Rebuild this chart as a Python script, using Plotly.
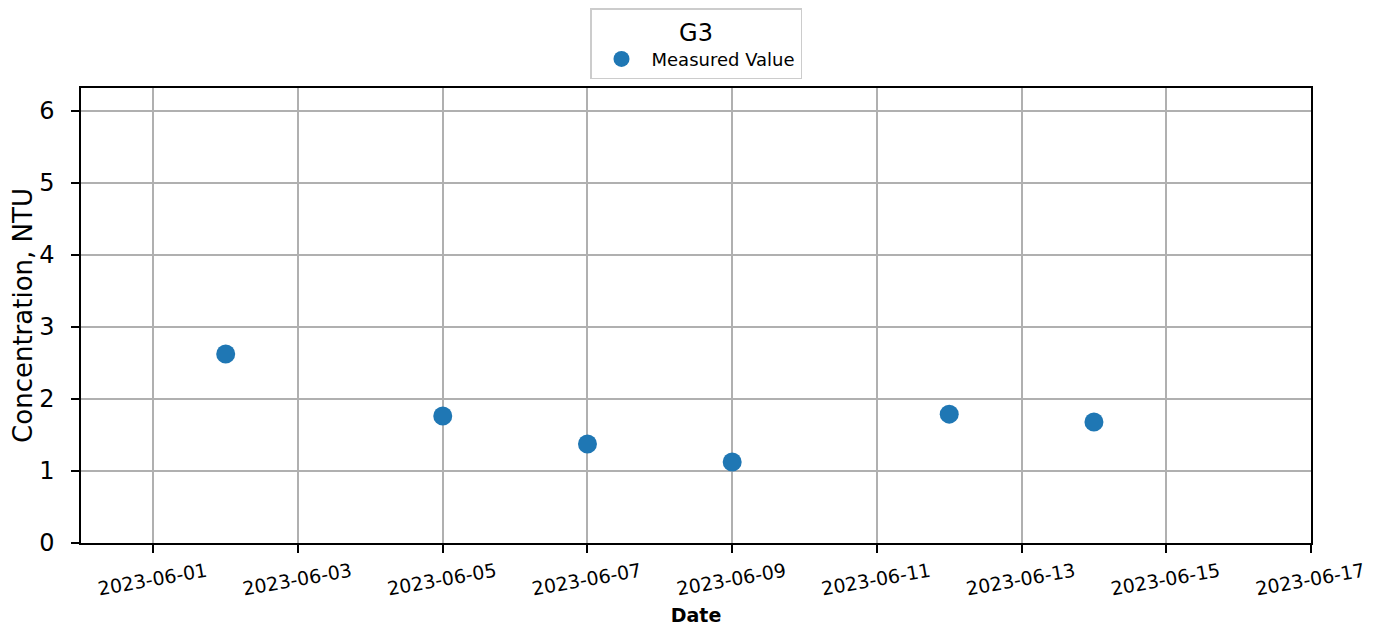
import plotly.graph_objects as go

dates = ["2023-06-02", "2023-06-05", "2023-06-07", "2023-06-09", "2023-06-12", "2023-06-14"]
values = [2.625, 1.765, 1.375, 1.125, 1.79, 1.68]
tick_dates = ["2023-06-01", "2023-06-03", "2023-06-05", "2023-06-07", "2023-06-09",
              "2023-06-11", "2023-06-13", "2023-06-15", "2023-06-17"]
y_ticks = [0, 1, 2, 3, 4, 5, 6]

FONT = "DejaVu Sans"
fig = go.Figure()
fig.add_trace(go.Scatter(x=dates, y=values, mode="markers", name="Measured Value",
                         marker=dict(color="#1f77b4", size=19, line=dict(width=0))))

fig.update_layout(
    width=1381, height=633,
    margin=dict(l=73, r=78, t=80, b=98, autoexpand=False),
    paper_bgcolor="white", plot_bgcolor="white",
    font=dict(family=FONT, color="black"),
    showlegend=True,
    legend=dict(
        title=dict(text="G3", font=dict(size=24, family=FONT), side="top center"),
        font=dict(size=18, family=FONT),
        x=0.5, xanchor="center", y=1 - 0 / 633, yanchor="top", yref="container",
        bordercolor="#cccccc", borderwidth=1.5, bgcolor="white",
        itemsizing="trace", itemwidth=50,
    ),
    xaxis=dict(
        range=["2023-05-31", "2023-06-17"],
        tickvals=tick_dates, ticktext=tick_dates,
        tickangle=-10, tickfont=dict(size=19),
        ticklabelshift=53, ticklabelstandoff=1,
        showgrid=True, gridcolor="#b0b0b0", gridwidth=1.6,
        showline=True, linecolor="black", linewidth=1.5, mirror=True,
        ticks="outside", ticklen=8, tickwidth=1.5, tickcolor="black",
        title=dict(text="<b>Date</b>", font=dict(size=19), standoff=10),
        zeroline=False, automargin=False,
    ),
    yaxis=dict(
        range=[0, 6.32],
        tickvals=y_ticks,
        tickfont=dict(size=24),
        ticklabelstandoff=12,
        showgrid=True, gridcolor="#b0b0b0", gridwidth=1.6,
        showline=True, linecolor="black", linewidth=1.5, mirror=True,
        ticks="outside", ticklen=8, tickwidth=1.5, tickcolor="black",
        title=dict(text="Concentration, NTU", font=dict(size=26), standoff=10),
        zeroline=False, automargin=False,
    ),
)
fig.write_html("out.html")
